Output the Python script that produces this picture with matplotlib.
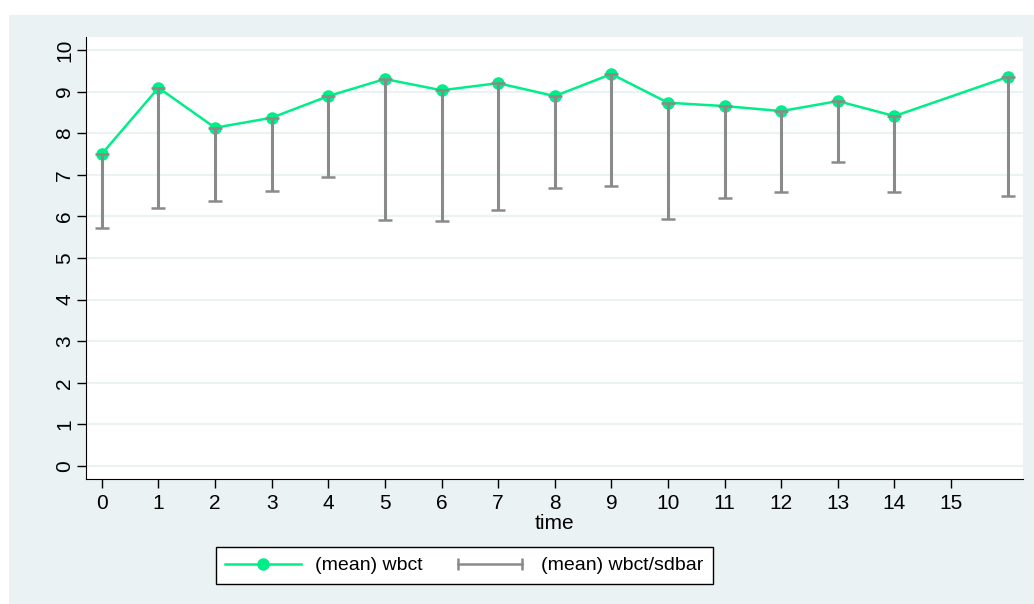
import matplotlib
matplotlib.use("Agg")
import matplotlib.pyplot as plt
from matplotlib.lines import Line2D
from matplotlib.legend_handler import HandlerLine2D
from matplotlib.patches import Rectangle

plt.rcParams['font.family'] = ['Liberation Sans', 'DejaVu Sans']

# data
time = [0, 1, 2, 3, 4, 5, 6, 7, 8, 9, 10, 11, 12, 13, 14, 16]
mean_wbct = [7.50, 9.09, 8.13, 8.37, 8.89, 9.30, 9.03, 9.20, 8.89, 9.42,
             8.73, 8.65, 8.53, 8.77, 8.41, 9.35]
lower_wbct = [5.72, 6.20, 6.38, 6.62, 6.94, 5.91, 5.90, 6.15, 6.68, 6.73,
              5.93, 6.43, 6.59, 7.30, 6.58, 6.49]
x_ticks = list(range(16))
y_ticks = list(range(11))

green = '#00EE88'
gray = '#8A8A8A'
bg = '#EAF2F3'

fig = plt.figure(figsize=(10.34, 6.04), dpi=100, facecolor='white')
fig.patches.append(Rectangle((9 / 1034, 0), 1, 589 / 604, transform=fig.transFigure,
                             facecolor=bg, edgecolor='none', zorder=-1))
ax = fig.add_axes([86 / 1034, 125 / 604, 937 / 1034, 442 / 604])
ax.set_zorder(1)
ax.set_facecolor('white')

ax.plot(time, mean_wbct, color=green, lw=1.8, marker='o', ms=8, zorder=3)
err = [[m - l for m, l in zip(mean_wbct, lower_wbct)], [0] * len(mean_wbct)]
ax.errorbar(time, mean_wbct, yerr=err, fmt='none', ecolor=gray, elinewidth=2.2,
            capsize=4.8, capthick=1.8, zorder=4)

ax.set_xlim(-0.28, 16.27)
ax.set_ylim(-0.31, 10.31)
ax.set_xticks(x_ticks)
ax.set_yticks(y_ticks)
ax.tick_params(axis='both', labelsize=15, length=6.5, width=1, color='black')
ax.tick_params(axis='x', pad=4)
ax.tick_params(axis='y', labelrotation=90, pad=2)
for lab in ax.get_yticklabels():
    lab.set_va('center')
ax.grid(axis='y', color=bg, lw=1.5)
ax.set_axisbelow(True)
for s in ['top', 'right']:
    ax.spines[s].set_visible(False)
ax.set_xlabel('time', fontsize=15, labelpad=1)

h1 = Line2D([], [], color=green, lw=1.8, marker='o', ms=8)
h2 = Line2D([], [], color=gray, lw=1.8, marker='|', ms=8, mew=1.8)
leg = fig.legend([h1, h2], ['(mean) wbct', '(mean) wbct/sdbar'],
                 handler_map={h1: HandlerLine2D(numpoints=1), h2: HandlerLine2D(numpoints=2)},
                 loc='center', bbox_to_anchor=(464.5 / 1034, (604 - 565.5) / 604),
                 ncol=2, fontsize=14, frameon=True, fancybox=False, edgecolor='black',
                 handlelength=3.9, handletextpad=0.7, columnspacing=1.5, borderpad=0.5)
leg.get_frame().set_linewidth(1.0)
leg.get_frame().set_facecolor('white')
leg.get_frame().set_alpha(1)

fig.savefig('out.png', dpi=100, facecolor=fig.get_facecolor())
